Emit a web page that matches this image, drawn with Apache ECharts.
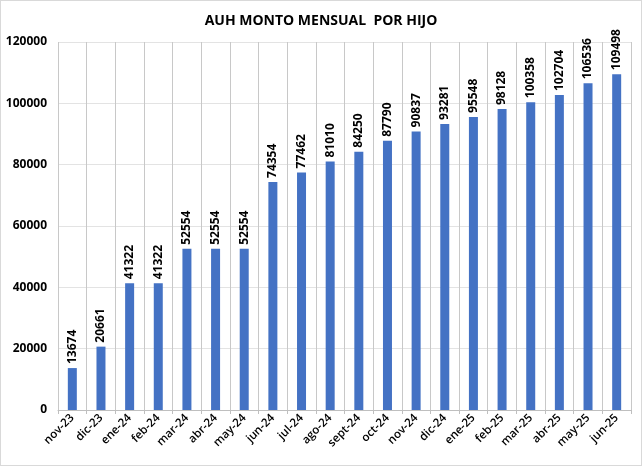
<!DOCTYPE html>
<html>
<head>
<meta charset="utf-8">
<script src="https://cdn.jsdelivr.net/npm/echarts@6/dist/echarts.min.js"></script>
<style>
  html, body { margin: 0; padding: 0; background: #fff; }
  #main { width: 642px; height: 466px; box-sizing: border-box; border: 1px solid #d9d9d9; }
</style>
</head>
<body>
<div id="main"></div>
<script>
// meses y montos
var meses = ['nov-23', 'dic-23', 'ene-24', 'feb-24', 'mar-24', 'abr-24', 'may-24',
    'jun-24', 'jul-24', 'ago-24', 'sept-24', 'oct-24', 'nov-24', 'dic-24',
    'ene-25', 'feb-25', 'mar-25', 'abr-25', 'may-25', 'jun-25'];
var montos = [13674, 20661, 41322, 41322, 52554, 52554, 52554,
    74354, 77462, 81010, 84250, 87790, 90837, 93281,
    95548, 98128, 100358, 102704, 106536, 109498];
var titulo = 'AUH MONTO MENSUAL  POR HIJO';

var fuente = '"Open Sans", "Liberation Sans", sans-serif';
var chart = echarts.init(document.getElementById('main'), null, { renderer: 'canvas' });

var option = {
    animation: false,
    title: {
        text: titulo,
        left: 'center',
        top: 8,
        textStyle: { fontFamily: fuente, fontSize: 14, fontWeight: 'bold', color: '#000' }
    },
    grid: { left: 57, right: 10, top: 41, bottom: 55, containLabel: false },
    xAxis: {
        type: 'category',
        data: meses,
        boundaryGap: true,
        axisLine: { show: true, lineStyle: { color: '#bfbfbf', width: 1 } },
        axisTick: { show: true, length: 4, lineStyle: { color: '#bfbfbf' } },
        splitLine: { show: true, interval: 0, lineStyle: { color: '#c8c8c8', width: 1 } },
        axisLabel: {
            interval: 0,
            rotate: 45,
            margin: 6,
            fontFamily: fuente,
            fontSize: 11.5,
            fontWeight: 600,
            color: '#000'
        }
    },
    yAxis: {
        type: 'value',
        min: 0,
        max: 120000,
        interval: 20000,
        axisLine: { show: false },
        axisTick: { show: false },
        splitLine: { show: true, lineStyle: { color: '#e3e3e3', width: 1 } },
        axisLabel: {
            margin: 11,
            formatter: function (v) { return String(v); },
            fontFamily: fuente,
            fontSize: 12,
            fontWeight: 'bold',
            color: '#000'
        }
    },
    series: [{
        type: 'bar',
        data: montos,
        barWidth: 9,
        itemStyle: { color: '#4472c4' },
        label: {
            show: true,
            position: 'top',
            rotate: 90,
            align: 'left',
            verticalAlign: 'middle',
            distance: 4,
            fontFamily: fuente,
            fontSize: 12,
            fontWeight: 'bold',
            color: '#000'
        }
    }]
};

chart.setOption(option);
</script>
</body>
</html>
